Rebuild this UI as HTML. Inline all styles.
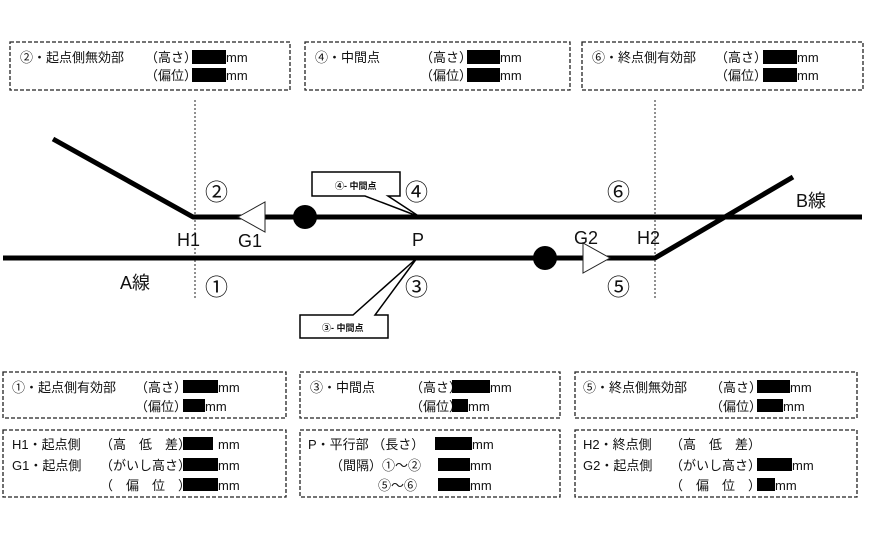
<!DOCTYPE html>
<html><head><meta charset="utf-8"><style>
html,body{margin:0;padding:0;background:#fff;}
svg{display:block;}
text{font-family:"Liberation Sans","Noto Sans CJK JP",sans-serif;fill:#111;}
.t{font-size:13px;}
.b{font-size:18px;}
.c{font-size:23px;}
</style></head><body>
<svg width="870" height="540" viewBox="0 0 870 540" xmlns="http://www.w3.org/2000/svg">
<g fill="none" stroke="#222" stroke-width="1.3" stroke-dasharray="4,2">
<rect x="10" y="42" width="280" height="48"/>
<rect x="305" y="42" width="265" height="48"/>
<rect x="582" y="42" width="281" height="48"/>
<rect x="3" y="372" width="283" height="46"/>
<rect x="300" y="372" width="260" height="46"/>
<rect x="575" y="372" width="282" height="46"/>
<rect x="3" y="430" width="283" height="67"/>
<rect x="300" y="430" width="260" height="67"/>
<rect x="575" y="430" width="282" height="67"/>
</g>
<g class="t">
<text x="20" y="62" class="t">②・起点側無効部</text><text x="145" y="62" class="t">（高さ）</text><text x="226" y="62" class="t">mm</text>
<text x="145" y="80" class="t">（偏位）</text><text x="226" y="80" class="t">mm</text>
<text x="315" y="62" class="t">④・中間点</text><text x="420" y="62" class="t">（高さ）</text><text x="500" y="62" class="t">mm</text>
<text x="420" y="80" class="t">（偏位）</text><text x="500" y="80" class="t">mm</text>
<text x="592" y="62" class="t">⑥・終点側有効部</text><text x="715" y="62" class="t">（高さ）</text><text x="797" y="62" class="t">mm</text>
<text x="715" y="80" class="t">（偏位）</text><text x="797" y="80" class="t">mm</text>

<text x="12" y="392" class="t">①・起点側有効部</text><text x="135" y="392" class="t">（高さ）</text><text x="218" y="392" class="t">mm</text>
<text x="135" y="411" class="t">（偏位）</text><text x="205" y="411" class="t">mm</text>
<text x="310" y="392" class="t">③・中間点</text><text x="410" y="392" class="t">（高さ）</text><text x="490" y="392" class="t">mm</text>
<text x="410" y="411" class="t">（偏位）</text><text x="468" y="411" class="t">mm</text>
<text x="583" y="392" class="t">⑤・終点側無効部</text><text x="710" y="392" class="t">（高さ）</text><text x="790" y="392" class="t">mm</text>
<text x="710" y="411" class="t">（偏位）</text><text x="783" y="411" class="t">mm</text>

<text x="12" y="449" class="t">H1・起点側</text><text x="100" y="449" class="t">（高　低　差）</text><text x="218" y="449" class="t">mm</text>
<text x="12" y="470" class="t">G1・起点側</text><text x="100" y="470" class="t">（がいし高さ）</text><text x="218" y="470" class="t">mm</text>
<text x="100" y="490" class="t">（　偏　位　）</text><text x="218" y="490" class="t">mm</text>
<text x="308" y="449" class="t">P・平行部 （長さ）</text><text x="472" y="449" class="t">mm</text>
<text x="330" y="470" class="t">（間隔）①～②</text><text x="470" y="470" class="t">mm</text>
<text x="378" y="490" class="t">⑤～⑥</text><text x="470" y="490" class="t">mm</text>
<text x="583" y="449" class="t">H2・終点側</text><text x="670" y="449" class="t">（高　低　差）</text>
<text x="583" y="470" class="t">G2・起点側</text><text x="670" y="470" class="t">（がいし高さ）</text><text x="792" y="470" class="t">mm</text>
<text x="670" y="490" class="t">（　偏　位　）</text><text x="775" y="490" class="t">mm</text>
</g>
<g fill="#000">
<rect x="192" y="50" width="34" height="14"/><rect x="192" y="68" width="34" height="14"/>
<rect x="467" y="50" width="33" height="14"/><rect x="467" y="68" width="33" height="14"/>
<rect x="763" y="50" width="34" height="14"/><rect x="763" y="68" width="34" height="14"/>
<rect x="183" y="380" width="35" height="13"/><rect x="183" y="399" width="22" height="13"/>
<rect x="452" y="380" width="38" height="13"/><rect x="452" y="399" width="16" height="13"/>
<rect x="757" y="380" width="33" height="13"/><rect x="757" y="399" width="26" height="13"/>
<rect x="183" y="437" width="30" height="13"/><rect x="183" y="458" width="35" height="13"/><rect x="183" y="478" width="35" height="13"/>
<rect x="435" y="437" width="37" height="13"/><rect x="438" y="458" width="32" height="13"/><rect x="438" y="478" width="32" height="13"/>
<rect x="757" y="458" width="35" height="13"/><rect x="757" y="478" width="18" height="13"/>
</g>
<g stroke="#222" stroke-width="1" stroke-dasharray="2,2">
<line x1="195" y1="100" x2="195" y2="300"/>
<line x1="655" y1="100" x2="655" y2="300"/>
</g>
<g stroke="#000" stroke-width="5" fill="none" stroke-linejoin="round">
<polyline points="53,139 193,217 862,217"/>
<polyline points="3,258 655,258 793,177"/>
</g>
<polygon points="238,217 265,202 265,232" fill="#fff" stroke="#222" stroke-width="1"/>
<polygon points="610,258 583,243 583,273" fill="#fff" stroke="#222" stroke-width="1"/>
<circle cx="305" cy="217" r="12" fill="#000"/>
<circle cx="545" cy="258" r="12" fill="#000"/>
<g stroke="#000" stroke-width="1.5" fill="#fff">
<path d="M312,172 H400 V196 H388 L420,217 L365,196 H312 Z"/>
<path d="M300,315 H353 L417,258 L375,315 H388 V338 H300 Z"/>
</g>
<text x="335" y="189" style="font-size:9px;font-weight:bold">④- 中間点</text>
<text x="322" y="331" style="font-size:9px;font-weight:bold">③- 中間点</text>
<g>
<text x="205" y="200" class="c">②</text>
<text x="405" y="200" class="c">④</text>
<text x="607" y="200" class="c">⑥</text>
<text x="205" y="295" class="c">①</text>
<text x="405" y="295" class="c">③</text>
<text x="607" y="295" class="c">⑤</text>
<text x="177" y="246" class="b">H1</text>
<text x="238" y="247" class="b">G1</text>
<text x="412" y="246" class="b">P</text>
<text x="574" y="244" class="b">G2</text>
<text x="637" y="244" class="b">H2</text>
<text x="120" y="289" class="b">A線</text>
<text x="796" y="207" class="b">B線</text>
</g>
</svg>
</body></html>
